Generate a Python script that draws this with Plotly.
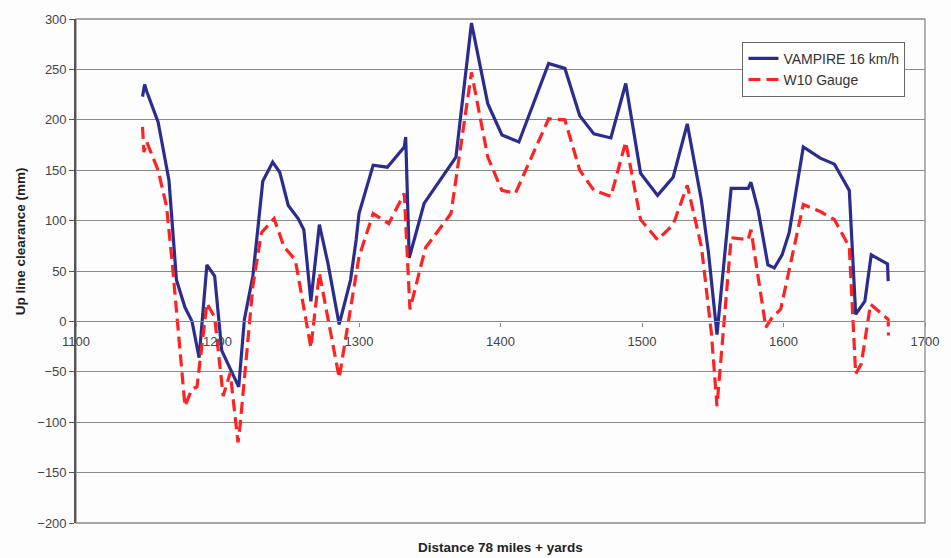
import plotly.graph_objects as go

# Distance (yards beyond 78 miles) and clearance values (mm)
vampire_x = [1147, 1148.5, 1150, 1158, 1165.7, 1168, 1171, 1177, 1182, 1187, 1192.5, 1198, 1203, 1215,
             1219, 1225, 1229, 1232, 1239, 1244, 1250, 1257, 1261, 1266, 1272, 1278, 1286, 1294, 1298,
             1300, 1310, 1320, 1332, 1333, 1335.5, 1346, 1368.5, 1379.5, 1391, 1401, 1413, 1434, 1445.5,
             1456, 1466, 1478, 1488.5, 1499, 1511, 1522, 1532, 1542, 1547, 1551, 1553, 1563, 1575, 1577,
             1582, 1589, 1593.5, 1599, 1604, 1614, 1626, 1636, 1646.5, 1651, 1657.5, 1662, 1669, 1673.5, 1674]
vampire_y = [223, 235, 228, 198, 140, 101, 41, 14, 0, -36, 56, 45, -29, -65,
             2, 45, 101, 139, 158, 148, 115, 102, 91, 20, 96, 58, -3, 41, 81,
             107, 155, 153, 173, 183, 63, 117, 163, 296, 216, 185, 178, 256, 251,
             204, 186, 182, 236, 147, 125, 143, 196, 120, 68, 15, -13, 132, 132, 138,
             111, 56, 53, 66, 88, 173, 162, 156, 130, 7, 20, 66, 60, 57, 40]

w10_x = [1147, 1148, 1150, 1158, 1164, 1168, 1177, 1182, 1185.5, 1192.5, 1198, 1204, 1209, 1214.5,
         1216, 1225, 1231, 1240, 1247, 1255, 1266, 1272, 1286, 1300, 1310, 1321, 1332, 1336, 1347,
         1365, 1379.5, 1391, 1401, 1410.5, 1434, 1445.5, 1456, 1466, 1478, 1488.5, 1499, 1511, 1522,
         1532, 1542, 1549, 1553, 1563, 1575, 1577, 1587.5, 1592, 1598, 1614, 1626, 1636, 1646.5,
         1651, 1655, 1661.5, 1674, 1674.2]
w10_y = [193, 168, 178, 150, 114, 58, -84, -67, -65, 18, 4, -74, -51, -120,
         -103, 35, 88, 102, 74, 61, -26, 48, -56, 64, 107, 97, 127, 12, 73,
         107, 247, 163, 130, 127, 201, 200, 150, 130, 124, 178, 101, 81, 96,
         135, 74, -11, -84, 83, 81, 91, -6, 4, 12, 116, 109, 101, 74,
         -52, -42, 17, 2, -14]

x_ticks = [1100, 1200, 1300, 1400, 1500, 1600, 1700]
y_ticks = [-200, -150, -100, -50, 0, 50, 100, 150, 200, 250, 300]

FONT = "Liberation Sans, Arial, sans-serif"
GRID = "#8a8a8a"

fig = go.Figure()
fig.add_trace(go.Scatter(x=vampire_x, y=vampire_y, mode="lines", name="VAMPIRE 16 km/h",
                         line=dict(color="#2B2D8E", width=3.2)))
fig.add_trace(go.Scatter(x=w10_x, y=w10_y, mode="lines", name="W10 Gauge",
                         line=dict(color="#FF2222", width=3.2, dash="12px,6px")))

fig.update_layout(
    width=951, height=558,
    margin=dict(l=76, r=18, t=17, b=35),
    paper_bgcolor="#fdfdfd", plot_bgcolor="#fdfdfd",
    font=dict(family=FONT, size=13, color="#444444"),
    showlegend=True,
    legend=dict(x=0.785, y=0.955, xanchor="left", yanchor="top",
                bgcolor="#ffffff", bordercolor="#666666", borderwidth=1,
                font=dict(family=FONT, size=14, color="#333333"),
                tracegroupgap=0, itemwidth=30),
    xaxis=dict(range=[1100, 1700], tickvals=x_ticks, showgrid=False, zeroline=False,
               anchor="free", position=0.4, showline=True, linecolor=GRID, linewidth=1.3,
               ticks="outside", ticklen=4, tickcolor=GRID, ticklabelstandoff=4,
               tickfont=dict(family=FONT, size=13, color="#444444")),
    yaxis=dict(range=[-200, 300], tickvals=y_ticks, showgrid=True, gridcolor=GRID, gridwidth=1.3,
               zeroline=False, showline=True, linecolor="#555555", linewidth=1.6,
               ticks="outside", ticklen=5, tickcolor="#555555",
               tickfont=dict(family=FONT, size=13, color="#444444")),
    shapes=[dict(type="rect", xref="paper", yref="paper", x0=0, x1=1, y0=0, y1=1,
                 line=dict(color=GRID, width=1.3), layer="below")],
    annotations=[
        dict(text="<b>Distance 78 miles + yards</b>", xref="paper", yref="paper",
             x=0.5, y=-0.049, xanchor="center", yanchor="middle", showarrow=False,
             font=dict(family=FONT, size=13.5, color="#222222")),
        dict(text="<b>Up line clearance (mm)</b>", xref="paper", yref="paper",
             x=0, xshift=-56, y=0.559, xanchor="center", yanchor="middle", textangle=-90,
             showarrow=False, font=dict(family=FONT, size=13.5, color="#222222")),
    ],
)

fig.write_html("out.html")
